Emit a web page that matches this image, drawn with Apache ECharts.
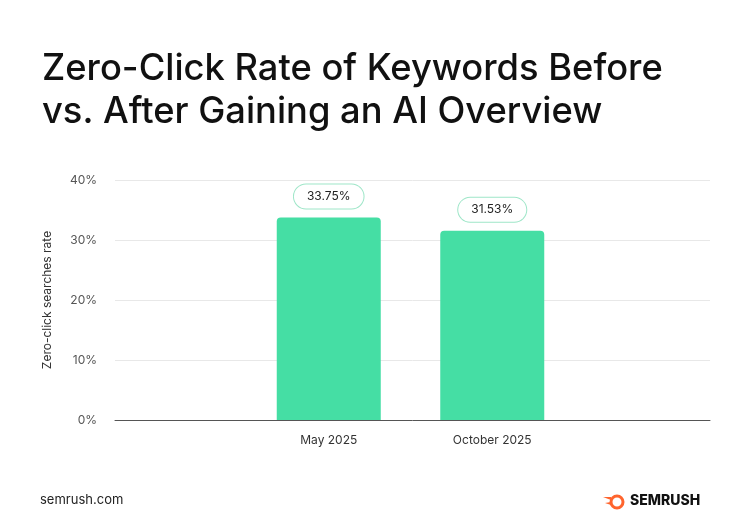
<!DOCTYPE html>
<html lang="en">
<head>
<meta charset="UTF-8">
<title>Zero-Click Rate</title>
<script src="https://cdn.jsdelivr.net/npm/echarts@6/dist/echarts.min.js"></script>
<style>
  body { margin: 0; background: #fff; }
  #chart { width: 750px; height: 523px; }
</style>
</head>
<body>
<div id="chart"></div>
<script>
const categories = ['May 2025', 'October 2025'];
const values = [33.75, 31.53];
const yTicks = [0, 10, 20, 30, 40];

const chart = echarts.init(document.getElementById('chart'));
chart.setOption({
  backgroundColor: '#fff',
  textStyle: { fontFamily: 'Inter' },
  title: {
    text: 'Zero-Click Rate of Keywords Before\nvs. After Gaining an AI Overview',
    left: 37, top: 43,
    textStyle: { fontFamily: 'Inter', fontSize: 36.3, fontWeight: 500, color: '#111', lineHeight: 43 }
  },
  grid: [
    { left: 115, right: 40, top: 180, bottom: 103 },
    { left: 247, right: 176, top: 180, bottom: 103 }
  ],
  xAxis: [
    { gridIndex: 0, type: 'value', min: 0, max: 1, show: true,
      axisLine: { show: true, onZero: false, lineStyle: { color: '#555' } },
      axisTick: { show: false }, axisLabel: { show: false }, splitLine: { show: false } },
    { gridIndex: 1, type: 'category', data: categories,
      axisLine: { show: false }, axisTick: { show: false },
      axisLabel: { color: '#333', fontSize: 12, margin: 14 } }
  ],
  yAxis: [
    { gridIndex: 0, type: 'value', min: yTicks[0], max: yTicks[yTicks.length - 1], interval: 10,
      name: 'Zero-click searches rate', nameLocation: 'middle', nameGap: 62, nameRotate: 90,
      nameTextStyle: { color: '#333', fontSize: 12 },
      axisLine: { show: false }, axisTick: { show: false },
      axisLabel: { color: '#555', fontSize: 12, formatter: '{value}%', margin: 18 },
      splitLine: { lineStyle: { color: '#e8e8e8' } } },
    { gridIndex: 1, type: 'value', min: 0, max: 40, show: false }
  ],
  series: [{
    type: 'bar', xAxisIndex: 1, yAxisIndex: 1, data: values, barWidth: 104,
    itemStyle: { color: '#45dea4', borderRadius: [4, 4, 0, 0] },
    label: {
      show: true, position: 'top', distance: 9, formatter: p => p.value.toFixed(2) + '%',
      color: '#222', fontSize: 12, backgroundColor: '#fff',
      borderColor: '#9ee6c8', borderWidth: 1, borderRadius: 12, padding: [6, 13]
    }
  }],
  graphic: [
    { type: 'text', left: 40, top: 494, style: { text: 'semrush.com', fontFamily: 'Inter', fontSize: 13, fill: '#222' } },
    { type: 'circle', shape: { cx: 617, cy: 502, r: 6 }, style: { fill: 'none', stroke: '#ff642d', lineWidth: 3 } },
    { type: 'polygon', shape: { points: [[603, 497], [611, 497], [611, 500]] }, style: { fill: '#ff642d' } },
    { type: 'polygon', shape: { points: [[605, 503], [611, 502], [611, 505]] }, style: { fill: '#ff642d' } },
    { type: 'text', left: 630, top: 494, style: { text: 'SEMRUSH', fontFamily: 'Inter', fontSize: 14, fontWeight: 800, fill: '#111' } }
  ]
});
</script>
</body>
</html>
